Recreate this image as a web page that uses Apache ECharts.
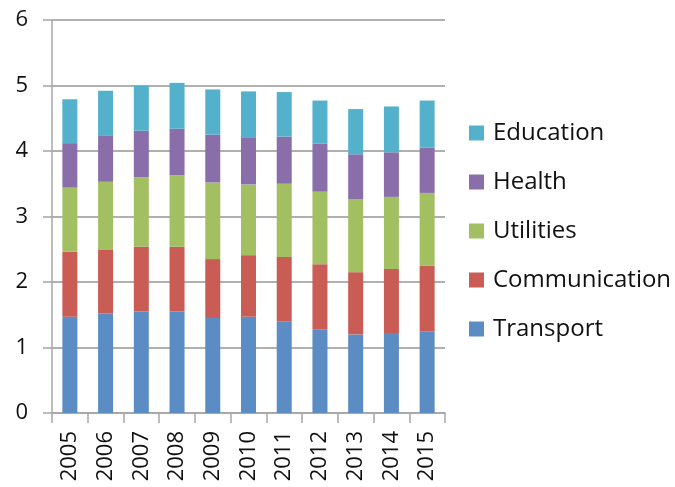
<!DOCTYPE html>
<html>
<head>
<meta charset="utf-8">
<script src="https://cdn.jsdelivr.net/npm/echarts@6/dist/echarts.min.js"></script>
<style>html,body{margin:0;padding:0;background:#fff;}#c{width:675px;height:487px;}</style>
</head>
<body>
<div id="c"></div>
<script>
const years = ['2005','2006','2007','2008','2009','2010','2011','2012','2013','2014','2015'];
const transport     = [1.47, 1.52, 1.55, 1.55, 1.45, 1.47, 1.40, 1.28, 1.20, 1.22, 1.25];
const communication = [0.99, 0.97, 0.99, 0.99, 0.90, 0.94, 0.98, 0.99, 0.95, 0.98, 1.00];
const utilities     = [0.98, 1.04, 1.06, 1.09, 1.17, 1.08, 1.12, 1.11, 1.11, 1.10, 1.11];
const health        = [0.68, 0.70, 0.71, 0.71, 0.73, 0.72, 0.72, 0.73, 0.69, 0.68, 0.69];
const education     = [0.67, 0.69, 0.69, 0.70, 0.69, 0.70, 0.68, 0.66, 0.69, 0.70, 0.72];
const yTicks = [0, 1, 2, 3, 4, 5, 6];

const names = ['Transport','Communication','Utilities','Health','Education'];
const colors = ['#5b8cc3','#c95c55','#a2bf62','#8a6eaa','#54b1cb'];
const values = [transport, communication, utilities, health, education];

const chart = echarts.init(document.getElementById('c'), null, {renderer:'canvas'});
const font = '"Open Sans", sans-serif';
chart.setOption({
  animation: false,
  color: colors,
  grid: {left: 52, right: 230, top: 20, bottom: 74, containLabel: false},
  legend: {
    orient: 'vertical',
    left: 469, top: 121,
    padding: 0,
    data: names.slice().reverse(),
    itemWidth: 15, itemHeight: 15, itemGap: 25,
    icon: 'rect',
    textStyle: {fontFamily: font, fontSize: 24, color: '#111', padding: [0,0,0,4]}
  },
  xAxis: {
    type: 'category',
    data: years,
    boundaryGap: true,
    axisLine: {lineStyle: {color: '#a6a6a6', width: 1.5}},
    axisTick: {show: true, alignWithLabel: false, length: 10, lineStyle: {color: '#a6a6a6', width: 1.5}},
    axisLabel: {rotate: 90, fontFamily: font, fontSize: 22, color: '#111', margin: 18}
  },
  yAxis: {
    type: 'value',
    min: yTicks[0], max: yTicks[yTicks.length-1], interval: 1,
    axisLine: {show: true, lineStyle: {color: '#a6a6a6', width: 1.5}},
    axisTick: {show: true, length: 9, lineStyle: {color: '#a6a6a6', width: 1.5}},
    splitLine: {show: true, lineStyle: {color: '#b0b0b0', width: 2}},
    axisLabel: {fontFamily: font, fontSize: 22, color: '#111', margin: 24}
  },
  series: names.map((n, i) => ({
    name: n, type: 'bar', stack: 'total',
    data: values[i],
    barWidth: 15,
    itemStyle: {color: colors[i]}
  }))
});
</script>
</body>
</html>
